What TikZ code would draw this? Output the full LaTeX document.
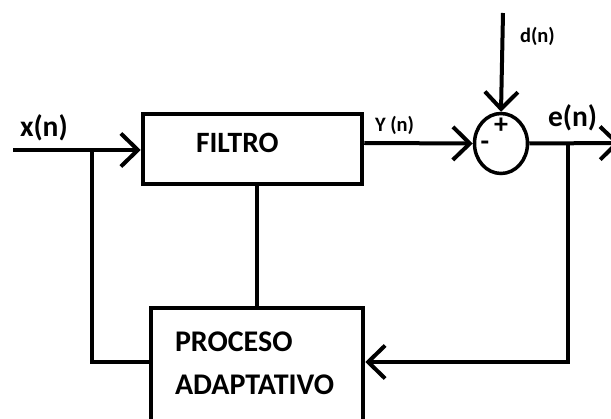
\documentclass[tikz,border=0pt]{standalone}
\usepackage{fontspec}
\setmainfont{Carlito}
\usetikzlibrary{arrows.meta,shapes.geometric}
\begin{document}
\begin{tikzpicture}[x=1pt,y=-1pt,line width=4pt,
  barb/.style={-{Straight Barb[length=17pt,width=33pt,line width=4pt]}},
  blockbox/.style={draw,line width=4.5pt,inner sep=0pt},
  biglbl/.style={font=\bfseries\fontsize{29.5}{34}\selectfont,inner sep=0pt},
  boxlbl/.style={font=\bfseries\fontsize{30}{36}\selectfont,inner sep=0pt},
  smalllbl/.style={font=\bfseries\fontsize{20.5}{24}\selectfont,inner sep=0pt},
  signlbl/.style={font=\bfseries\fontsize{28}{32}\selectfont,inner sep=0pt}]
\useasboundingbox (0,0) rectangle (611,419);
\clip (0,0) rectangle (611,419);

% blocks
\node[blockbox,minimum width=219pt,minimum height=70pt] (filt) at (252.5,149) {};
\node[blockbox,minimum width=212pt,minimum height=122pt] (proc) at (257,369) {};
\node[draw,ellipse,line width=3.5pt,minimum width=53pt,minimum height=60pt,inner sep=0pt] (sum) at (501,143.5) {};

% labels
\node[biglbl,anchor=base west] (tfilt) at (194,153) {FILTRO};
\node[boxlbl,anchor=base west] (tproc) at (173,352) {PROCESO};
\node[boxlbl,anchor=base west] (tadap) at (173,395) {ADAPTATIVO};
\node[biglbl,anchor=base west] (tx) at (18,137) {x(n)};
\node[biglbl,anchor=base west] (te) at (546,127) {e(n)};
\node[smalllbl,anchor=base west] (td) at (518,43) {d(n)};
\node[smalllbl,anchor=base west] (ty) at (373,132) {Y (n)};
\node[signlbl] (plus) at (501,126) {+};
\node[signlbl] (minus) at (485,146) {-};

% signal endpoints and branch points
\coordinate (in) at (13,150);
\coordinate (br1) at (92,150);
\coordinate (dtop) at (503,13);
\coordinate (out) at (620,143);
\coordinate (br2) at (568,143);

% connectors
\draw[barb] (in) -- (in -| filt.west);
\draw (br1) |- ([yshift=7pt]proc.west);
\draw[barb] ([yshift=6pt]filt.east) -- (sum.west);
\draw[barb] (dtop) -- (sum.north);
\draw[barb] (sum.east) -- (out);
\draw[barb] (br2) |- ([yshift=7pt]proc.east);
\draw (proc.north) -- (proc.north |- filt.south);
\end{tikzpicture}
\end{document}
